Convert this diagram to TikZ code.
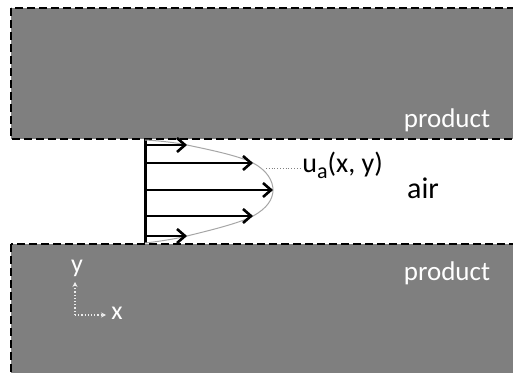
\documentclass[tikz,border=0pt]{standalone}
\usepackage{fontspec}
\setmainfont{Carlito}
\usepackage{xcolor}
\usetikzlibrary{positioning, arrows.meta, calc}
\definecolor{prodgray}{RGB}{127,127,127}

\begin{document}
\begin{tikzpicture}[
  x=0.5pt, y=-0.5pt,
  font=\fontsize{13.5}{16}\selectfont,
  wall/.style={draw=black, fill=prodgray, dash pattern=on 4pt off 2pt, line width=1.3pt},
  vel/.style={-{Straight Barb[length=4pt, width=7pt, line width=1.3pt]}, line width=1.3pt},
  prof/.style={draw=gray!70, line width=0.5pt},
  lead/.style={draw=gray, densely dotted, line width=0.4pt},
  axis/.style={draw=white!85!gray, densely dotted, line width=0.6pt, -{Stealth[length=2.5pt, width=2.5pt]}},
  prodlbl/.style={text=white, inner sep=1pt},
  axlbl/.style={text=white, inner sep=1pt, font=\fontsize{13}{15}\selectfont}
]
\useasboundingbox (0,0) rectangle (513,373);
\clip (0,0) rectangle (513,373);
\fill[white] (0,0) rectangle (513,373);

% product layers
\draw[wall] (11,8) rectangle (540,139);
\draw[wall] (11,244) rectangle (540,400);
\node[prodlbl] (prodtop) at (447,120) {product};
\node[prodlbl] (prodbot) at (447,273) {product};

% velocity profile
\coordinate (wtop) at (145,140);
\coordinate (wbot) at (145,243);
\draw[line width=1.5pt] (wtop) -- (wbot);
\draw[prof] plot[smooth, tension=0.6] coordinates {(145,140) (187,145) (253,163) (273,190) (253,216) (187,236) (145,243)};
\foreach \yy/\uu in {145/187, 163/253, 190/273, 216/253, 236/187} {
  \coordinate (w\yy) at (145,\yy);
  \coordinate (t\yy) at (\uu,\yy);
  \draw[vel] (w\yy) -- (t\yy);
}
\coordinate (pt) at (266,168);
\node[anchor=west, inner sep=1pt, font=\fontsize{14}{16}\selectfont] (ua) at (300,165)
  {u\raisebox{-0.45ex}{\fontsize{11}{13}\selectfont a}(x, y)};
\draw[lead] (pt) -- (ua.west |- pt);
\node[font=\fontsize{15}{17}\selectfont] (air) at (423,188) {air};

% axes
\coordinate (orig) at (75,315);
\coordinate (yend) at (75,282);
\coordinate (xend) at (106,315);
\draw[axis] (orig) -- (yend);
\draw[axis] (orig) -- (xend);
\node[axlbl] (ylab) at (77,268) {y};
\node[axlbl] (xlab) at (117,313) {x};
\end{tikzpicture}
\end{document}
